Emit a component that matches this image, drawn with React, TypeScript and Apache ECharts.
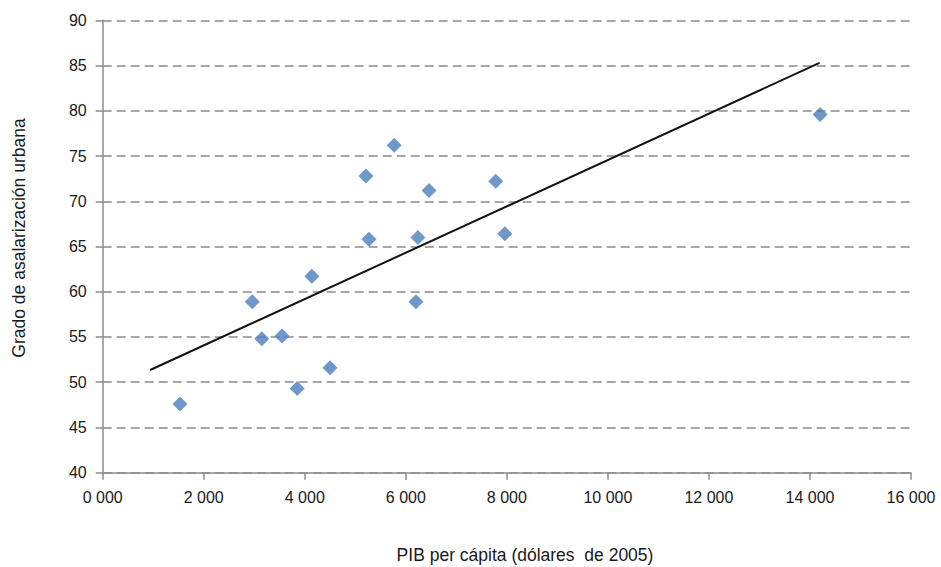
import React, { useEffect, useRef } from "react";
import * as echarts from "echarts";

const pibPerCapita = [1530, 2960, 3150, 3550, 3850, 4140, 4500, 5210, 5270, 5770, 6460, 6240, 6200, 7780, 7960, 14200];
const asalarizacion = [47.6, 58.9, 54.8, 55.1, 49.3, 61.7, 51.6, 72.8, 65.8, 76.2, 71.2, 66.0, 58.9, 72.2, 66.4, 79.6];
const trendX = [940, 14190];
const trendY = [51.35, 85.3];
const xTicks = { min: 0, max: 16000, interval: 2000 };
const yTicks = { min: 40, max: 90, interval: 5 };
const xTitle = "PIB per cápita (dólares  de 2005)";
const yTitle = "Grado de asalarización urbana";

const fmt = (v: number) => `${Math.floor(v / 1000)} ${String(v % 1000).padStart(3, "0")}`;

export default function App() {
  const ref = useRef<HTMLDivElement>(null);
  useEffect(() => {
    document.body.style.margin = "0";
    const chart = echarts.init(ref.current!, null, { renderer: "svg" });
    const font = "Liberation Sans, Arial, sans-serif";
    chart.setOption({
      animation: false,
      backgroundColor: "#ffffff",
      grid: { left: 102.7, right: 30, top: 20.3, bottom: 94.3, containLabel: false },
      xAxis: {
        type: "value",
        min: xTicks.min,
        max: xTicks.max,
        interval: xTicks.interval,
        axisLine: { show: true, onZero: false, lineStyle: { color: "#8c8c8c", width: 1.5 } },
        axisTick: { show: true, length: 7, lineStyle: { color: "#8c8c8c", width: 1.5 } },
        axisLabel: { formatter: fmt, color: "#1a1a1a", fontSize: 16, fontFamily: font, margin: 17 },
        splitLine: { show: false },
      },
      yAxis: {
        type: "value",
        min: yTicks.min,
        max: yTicks.max,
        interval: yTicks.interval,
        axisLine: { show: true, lineStyle: { color: "#8c8c8c", width: 1.5 } },
        axisTick: { show: true, length: 7, lineStyle: { color: "#8c8c8c", width: 1.5 } },
        axisLabel: { color: "#1a1a1a", fontSize: 16, fontFamily: font, margin: 16 },
        splitLine: { show: true, lineStyle: { color: "#8c8c8c", width: 1.5, type: [9, 5] } },
      },
      graphic: [
        {
          type: "text",
          x: 525,
          y: 555,
          style: { text: xTitle, fill: "#1a1a1a", font: `17.5px ${font}`, textAlign: "center", textVerticalAlign: "middle" },
        },
        {
          type: "text",
          x: 19,
          y: 238,
          rotation: Math.PI / 2,
          style: { text: yTitle, fill: "#1a1a1a", font: `17.5px ${font}`, textAlign: "center", textVerticalAlign: "middle" },
        },
      ],
      series: [
        {
          type: "line",
          data: trendX.map((x, i) => [x, trendY[i]]),
          showSymbol: false,
          symbol: "none",
          lineStyle: { color: "#111111", width: 2 },
          z: 3,
        },
        {
          type: "scatter",
          data: pibPerCapita.map((x, i) => [x, asalarizacion[i]]),
          symbol: "diamond",
          symbolSize: 15,
          itemStyle: { color: "#4a7ebb" },
          z: 4,
        },
      ],
    });
    return () => chart.dispose();
  }, []);
  return <div ref={ref} style={{ width: 941, height: 567 }} />;
}
